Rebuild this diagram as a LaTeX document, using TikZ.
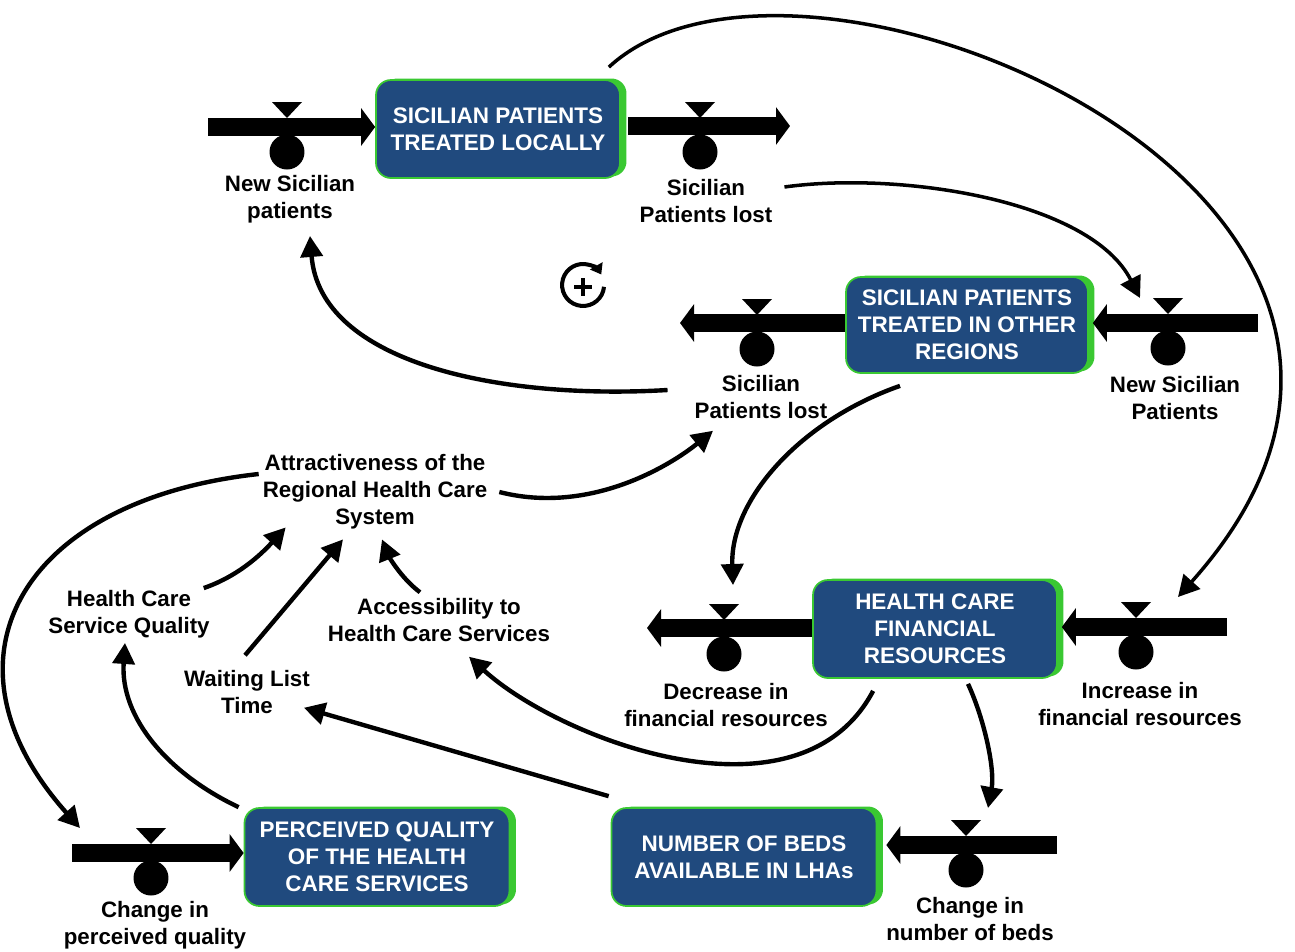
\documentclass[tikz,border=0pt]{standalone}
\usepackage{fontspec}
\setmainfont{Liberation Sans}
\usetikzlibrary{calc, positioning}
\usetikzlibrary{arrows.meta}
\usetikzlibrary{shadows}

\definecolor{stockblue}{RGB}{32,74,126}
\definecolor{stockgreen}{RGB}{58,200,50}

\begin{document}
\begin{tikzpicture}[x=0.02cm, y=-0.02cm,
  stock/.style={rectangle, rounded corners=0.3cm, fill=stockblue, draw=stockgreen, line width=1pt,
    general shadow={fill=stockgreen, shadow xshift=0.13cm, shadow yshift=0.03cm},
    text=white, align=center, font=\fontsize{12.8}{15.3}\selectfont\bfseries,
    minimum height=1.96cm, inner sep=0pt},
  pipe/.style={line width=0.36cm, -{Triangle[length=0.28cm, width=0.74cm]}},
  valve/.style={circle, fill=black, minimum size=0.7cm, inner sep=0pt},
  lbl/.style={align=center, font=\fontsize{12.7}{15.3}\selectfont\bfseries, inner sep=1pt},
  link/.style={line width=2.5pt, -{Triangle[length=0.42cm, width=0.44cm]}}]
\useasboundingbox (0,0) rectangle (1295,951);

% stocks
\node[stock, minimum width=4.88cm] (box1) at (498,129) {SICILIAN PATIENTS\\TREATED LOCALLY};
\node[stock, minimum width=4.84cm, minimum height=1.92cm] (box2) at (967,325) {SICILIAN PATIENTS\\TREATED IN OTHER\\REGIONS};
\node[stock, minimum width=4.88cm] (box3) at (935,629) {HEALTH CARE\\FINANCIAL\\RESOURCES};
\node[stock, minimum width=5.3cm] (box4) at (744,857) {NUMBER OF BEDS\\AVAILABLE IN LHAs};
\node[stock, minimum width=5.3cm] (box5) at (377,857) {PERCEIVED QUALITY\\OF THE HEALTH\\CARE SERVICES};

% flows
\coordinate (src1) at (208,127);
\coordinate (snk1) at (790,126);
\coordinate (snk2) at (680,323);
\coordinate (src2) at (1258,323);
\coordinate (snk3) at (647,628);
\coordinate (src3) at (1227,627);
\coordinate (src4) at (1057,845);
\coordinate (src5) at (72,853);

\draw[pipe] (src1) -- (src1 -| box1.west);
\draw[pipe] (src5) -- (src5 -| box5.west);
\draw[pipe] (src2) -- ($(src2 -| box2.east)+(4,0)$);
\draw[pipe] (src3) -- ($(src3 -| box3.east)+(4,0)$);
\draw[pipe] (src4) -- ($(src4 -| box4.east)+(9,0)$);
\draw[pipe] ($(box1.east |- snk1)+(7,0)$) -- (snk1);
\draw[pipe] (box2.west |- snk2) -- (snk2);
\draw[pipe] (box3.west |- snk3) -- (snk3);

% valves
\node[valve] (v1) at (287,152) {};
\node[valve] (v2) at (700,152) {};
\node[valve] (v3) at (757,349) {};
\node[valve] (v4) at (1168,348) {};
\node[valve] (v5) at (724,654) {};
\node[valve] (v6) at (1136,652) {};
\node[valve] (v7) at (966,870) {};
\node[valve] (v8) at (151,878) {};
\foreach \v in {v1,v2,v3,v4,v5,v6,v7,v8}
  \fill ($(\v)+(-15,-50)$) -- ++(30,0) -- ++(-15,16) -- cycle;

\node[lbl] (l1) at (290,199) {New Sicilian\\patients};
\node[lbl] (l2) at (706,201) {Sicilian\\Patients lost};
\node[lbl] (l3) at (761,397) {Sicilian\\Patients lost};
\node[lbl] (l4) at (1175,398) {New Sicilian\\Patients};
\node[lbl] (l5) at (726,705) {Decrease in\\financial resources};
\node[lbl] (l6) at (1140,704) {Increase in\\financial resources};
\node[lbl] (l7) at (970,919) {Change in\\number of beds};
\node[lbl] (l8) at (155,925) {Change in\\perceived quality};

% auxiliaries
\node[lbl] (attr) at (375,492) {Attractiveness of the\\Regional Health Care\\System};
\node[lbl] (hcsq) at (129,614) {Health Care\\Service Quality};
\node[lbl] (wlt) at (247,692) {Waiting List\\Time};
\node[lbl] (acc) at (439,620) {Accessibility to\\Health Care Services};

% loop marker
\coordinate (loop) at (583,285);
\draw[line width=2.3pt, -{Triangle[length=0.2cm, width=0.28cm]}]
  ($(loop)+(21,1.8)$) arc[start angle=5, end angle=330, radius=21];
\draw[line width=2.8pt] ($(loop)+(-9,2)$) -- ($(loop)+(9,2)$);
\draw[line width=2.8pt] ($(loop)+(0,-7)$) -- ($(loop)+(0,11)$);

% causal links
\draw[link, line width=2pt] ([shift={(-12,-12)}]box1.north east)
  .. controls +(192,-178) and +(355,-397) .. ([shift={(42,-55)}]v6.center);
\draw[link, line width=2pt] ([shift={(10,-14)}]l2.east)
  .. controls +(115,-16) and +(-50,-98) .. ([shift={(-28,-50)}]v4.center);
\draw[link] ([shift={(-25,-7)}]l3.west)
  .. controls +(-168,10) and +(10,127) .. ([shift={(20,11)}]l1.south);
\draw[link] ([shift={(-67,12)}]box2.south)
  .. controls +(-100,35) and +(-3,-85) .. ([shift={(9,-69)}]v5.center);
\draw[link] ([shift={(10,0)}]attr.east)
  .. controls +(90,23) and +(-43,35) .. ([shift={(-48,10)}]l3.south);
\draw[link] ([shift={(-2,-18)}]attr.west)
  .. controls +(-238,26) and +(-150,-168) .. ([shift={(-71,-50)}]v8.center);
\draw[link] ([shift={(-8,0)}]hcsq.north east)
  .. controls +(38,-13) and +(-20,22) .. ([shift={(25,-4)}]attr.south west);
\draw[link] ([shift={(-2,-13)}]wlt.north) -- ([shift={(-32,8)}]attr.south);
\draw[link] ([shift={(-19,-4)}]acc.north)
  .. controls +(-20,-15) and +(6,15) .. ([shift={(7,8)}]attr.south);
\draw[link] ([shift={(-5,0)}]box5.north west)
  .. controls +(-70,-33) and +(-5,75) .. ([shift={(-4,3)}]hcsq.south);
\draw[link] ([shift={(61,12)}]box3.south west)
  .. controls +(-74,140) and +(91,83) .. ([shift={(30,13)}]acc.south);
\draw[link] ([shift={(-2,-11)}]box4.north west) -- ([shift={(-8,-8)}]wlt.south east);
\draw[link] ([shift={(33,5)}]box3.south)
  .. controls +(17,37) and +(7,-38) .. ([shift={(22,-62)}]v7.center);
\end{tikzpicture}
\end{document}
